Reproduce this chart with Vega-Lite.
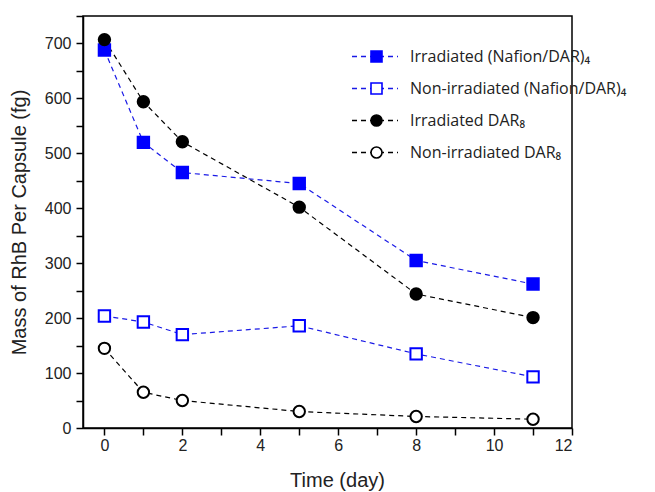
{
  "$schema": "https://vega.github.io/schema/vega-lite/v6.json",
  "autosize": {"type": "none"},
  "padding": {"left": 83, "top": 16, "right": 83, "bottom": 64},
  "width": 489,
  "height": 412,
  "background": "white",
  "config": {
    "view": {"stroke": "#000", "strokeWidth": 1.5},
    "axis": {"labelFont": "Liberation Sans", "titleFont": "Liberation Sans", "labelFontSize": 16, "titleFontSize": 20, "titleFontWeight": "normal", "labelColor": "#222", "titleColor": "#222", "grid": false, "domainColor": "#000", "domainWidth": 1.5, "tickColor": "#000", "tickWidth": 1.5}
  },
  "data": {"values": [
    {"series": "Irradiated (Nafion/DAR)₄", "t": 0, "v": 688},
    {"series": "Irradiated (Nafion/DAR)₄", "t": 1, "v": 520},
    {"series": "Irradiated (Nafion/DAR)₄", "t": 2, "v": 465},
    {"series": "Irradiated (Nafion/DAR)₄", "t": 5, "v": 445},
    {"series": "Irradiated (Nafion/DAR)₄", "t": 8, "v": 305},
    {"series": "Irradiated (Nafion/DAR)₄", "t": 11, "v": 262},
    {"series": "Non-irradiated (Nafion/DAR)₄", "t": 0, "v": 204},
    {"series": "Non-irradiated (Nafion/DAR)₄", "t": 1, "v": 193},
    {"series": "Non-irradiated (Nafion/DAR)₄", "t": 2, "v": 170},
    {"series": "Non-irradiated (Nafion/DAR)₄", "t": 5, "v": 186},
    {"series": "Non-irradiated (Nafion/DAR)₄", "t": 8, "v": 135},
    {"series": "Non-irradiated (Nafion/DAR)₄", "t": 11, "v": 93},
    {"series": "Irradiated DAR₈", "t": 0, "v": 707},
    {"series": "Irradiated DAR₈", "t": 1, "v": 594},
    {"series": "Irradiated DAR₈", "t": 2, "v": 521},
    {"series": "Irradiated DAR₈", "t": 5, "v": 402},
    {"series": "Irradiated DAR₈", "t": 8, "v": 244},
    {"series": "Irradiated DAR₈", "t": 11, "v": 201},
    {"series": "Non-irradiated DAR₈", "t": 0, "v": 145},
    {"series": "Non-irradiated DAR₈", "t": 1, "v": 65},
    {"series": "Non-irradiated DAR₈", "t": 2, "v": 50},
    {"series": "Non-irradiated DAR₈", "t": 5, "v": 30},
    {"series": "Non-irradiated DAR₈", "t": 8, "v": 21},
    {"series": "Non-irradiated DAR₈", "t": 11, "v": 16}
  ]},
  "encoding": {
    "x": {"field": "t", "type": "quantitative", "title": "Time (day)",
      "scale": {"domain": [-0.55, 12], "nice": false, "zero": false},
      "axis": {"values": [0,1,2,3,4,5,6,7,8,9,10,11,12], "labelExpr": "datum.value % 2 === 0 ? datum.label : ''", "tickSize": 7, "labelPadding": 2, "titlePadding": 17, "titleX": 254,
        "encode": {"ticks": {"update": {"y2": {"signal": "datum.value % 2 === 0 ? 7 : 4"}}}}}},
    "y": {"field": "v", "type": "quantitative", "title": "Mass of RhB Per Capsule (fg)",
      "scale": {"domain": [0, 750], "nice": false},
      "axis": {"values": [0,50,100,150,200,250,300,350,400,450,500,550,600,650,700,750], "labelExpr": "datum.value % 100 === 0 ? datum.label : ''", "tickSize": 7, "labelPadding": 5, "titlePadding": 15,
        "encode": {"ticks": {"update": {"x2": {"signal": "datum.value % 100 === 0 ? -7 : -4"}}}}}}
  },
  "layer": [
    {
      "mark": {"type": "line", "strokeDash": [5, 4], "strokeWidth": 1.2},
      "encoding": {
        "color": {"field": "series", "type": "nominal", "title": null,
          "scale": {"domain": ["Irradiated (Nafion/DAR)₄", "Non-irradiated (Nafion/DAR)₄", "Irradiated DAR₈", "Non-irradiated DAR₈"], "range": ["#1a1ae6", "#1a1ae6", "#000000", "#000000"]},
          "legend": {
            "orient": "none", "legendX": 268, "legendY": 31, "padding": 0,
            "labelFont": "Open Sans", "labelFontSize": 16, "labelColor": "#222", "labelLimit": 400,
            "symbolType": "stroke", "symbolSize": 2116, "symbolStrokeWidth": 1.3, "symbolDash": [5, 4],
            "labelOffset": 11, "rowPadding": 13, "symbolOffset": 0, "clipHeight": 19
          }}
      }
    },
    {
      "mark": {"type": "point", "strokeWidth": 2, "opacity": 1, "filled": false},
      "encoding": {
        "shape": {"field": "series", "type": "nominal", "title": null,
          "scale": {"domain": ["Irradiated (Nafion/DAR)₄", "Non-irradiated (Nafion/DAR)₄", "Irradiated DAR₈", "Non-irradiated DAR₈", "—"], "range": ["square", "square", "circle", "circle", "circle"]},
          "legend": {
            "values": ["Irradiated (Nafion/DAR)₄", "Non-irradiated (Nafion/DAR)₄", "Irradiated DAR₈", "Non-irradiated DAR₈"],
            "orient": "none", "legendX": 285.5, "legendY": 31, "padding": 0,
            "labelFont": "Open Sans", "labelFontSize": 16, "labelColor": "rgba(0,0,0,0)", "labelLimit": 400,
            "symbolSize": 121, "symbolStrokeWidth": 1.6, "symbolOpacity": 1,
            "labelOffset": 28.5, "rowPadding": 13, "symbolOffset": 0, "clipHeight": 19
          }},
        "fill": {"field": "series", "type": "nominal", "title": null,
          "scale": {"domain": ["Irradiated (Nafion/DAR)₄", "Non-irradiated (Nafion/DAR)₄", "Irradiated DAR₈", "Non-irradiated DAR₈", "—"], "range": ["#0000ff", "#ffffff", "#000000", "#ffffff", "#ffffff"]},
          "legend": {
            "values": ["Irradiated (Nafion/DAR)₄", "Non-irradiated (Nafion/DAR)₄", "Irradiated DAR₈", "Non-irradiated DAR₈"],
            "orient": "none", "legendX": 285.5, "legendY": 31, "padding": 0,
            "labelFont": "Open Sans", "labelFontSize": 16, "labelColor": "rgba(0,0,0,0)", "labelLimit": 400,
            "symbolSize": 121, "symbolStrokeWidth": 1.6, "symbolOpacity": 1,
            "labelOffset": 28.5, "rowPadding": 13, "symbolOffset": 0, "clipHeight": 19
          }},
        "size": {"value": 130},
        "stroke": {"field": "series", "type": "nominal", "title": null,
          "scale": {"domain": ["Irradiated (Nafion/DAR)₄", "Non-irradiated (Nafion/DAR)₄", "Irradiated DAR₈", "Non-irradiated DAR₈", "—"], "range": ["#0000ff", "#0000ff", "#000000", "#000000", "#000000"]},
          "legend": {
            "values": ["Irradiated (Nafion/DAR)₄", "Non-irradiated (Nafion/DAR)₄", "Irradiated DAR₈", "Non-irradiated DAR₈"],
            "orient": "none", "legendX": 285.5, "legendY": 31, "padding": 0,
            "labelFont": "Open Sans", "labelFontSize": 16, "labelColor": "rgba(0,0,0,0)", "labelLimit": 400,
            "symbolSize": 121, "symbolStrokeWidth": 1.6, "symbolOpacity": 1,
            "labelOffset": 28.5, "rowPadding": 13, "symbolOffset": 0, "clipHeight": 19
          }}
      }
    }
  ]
}
